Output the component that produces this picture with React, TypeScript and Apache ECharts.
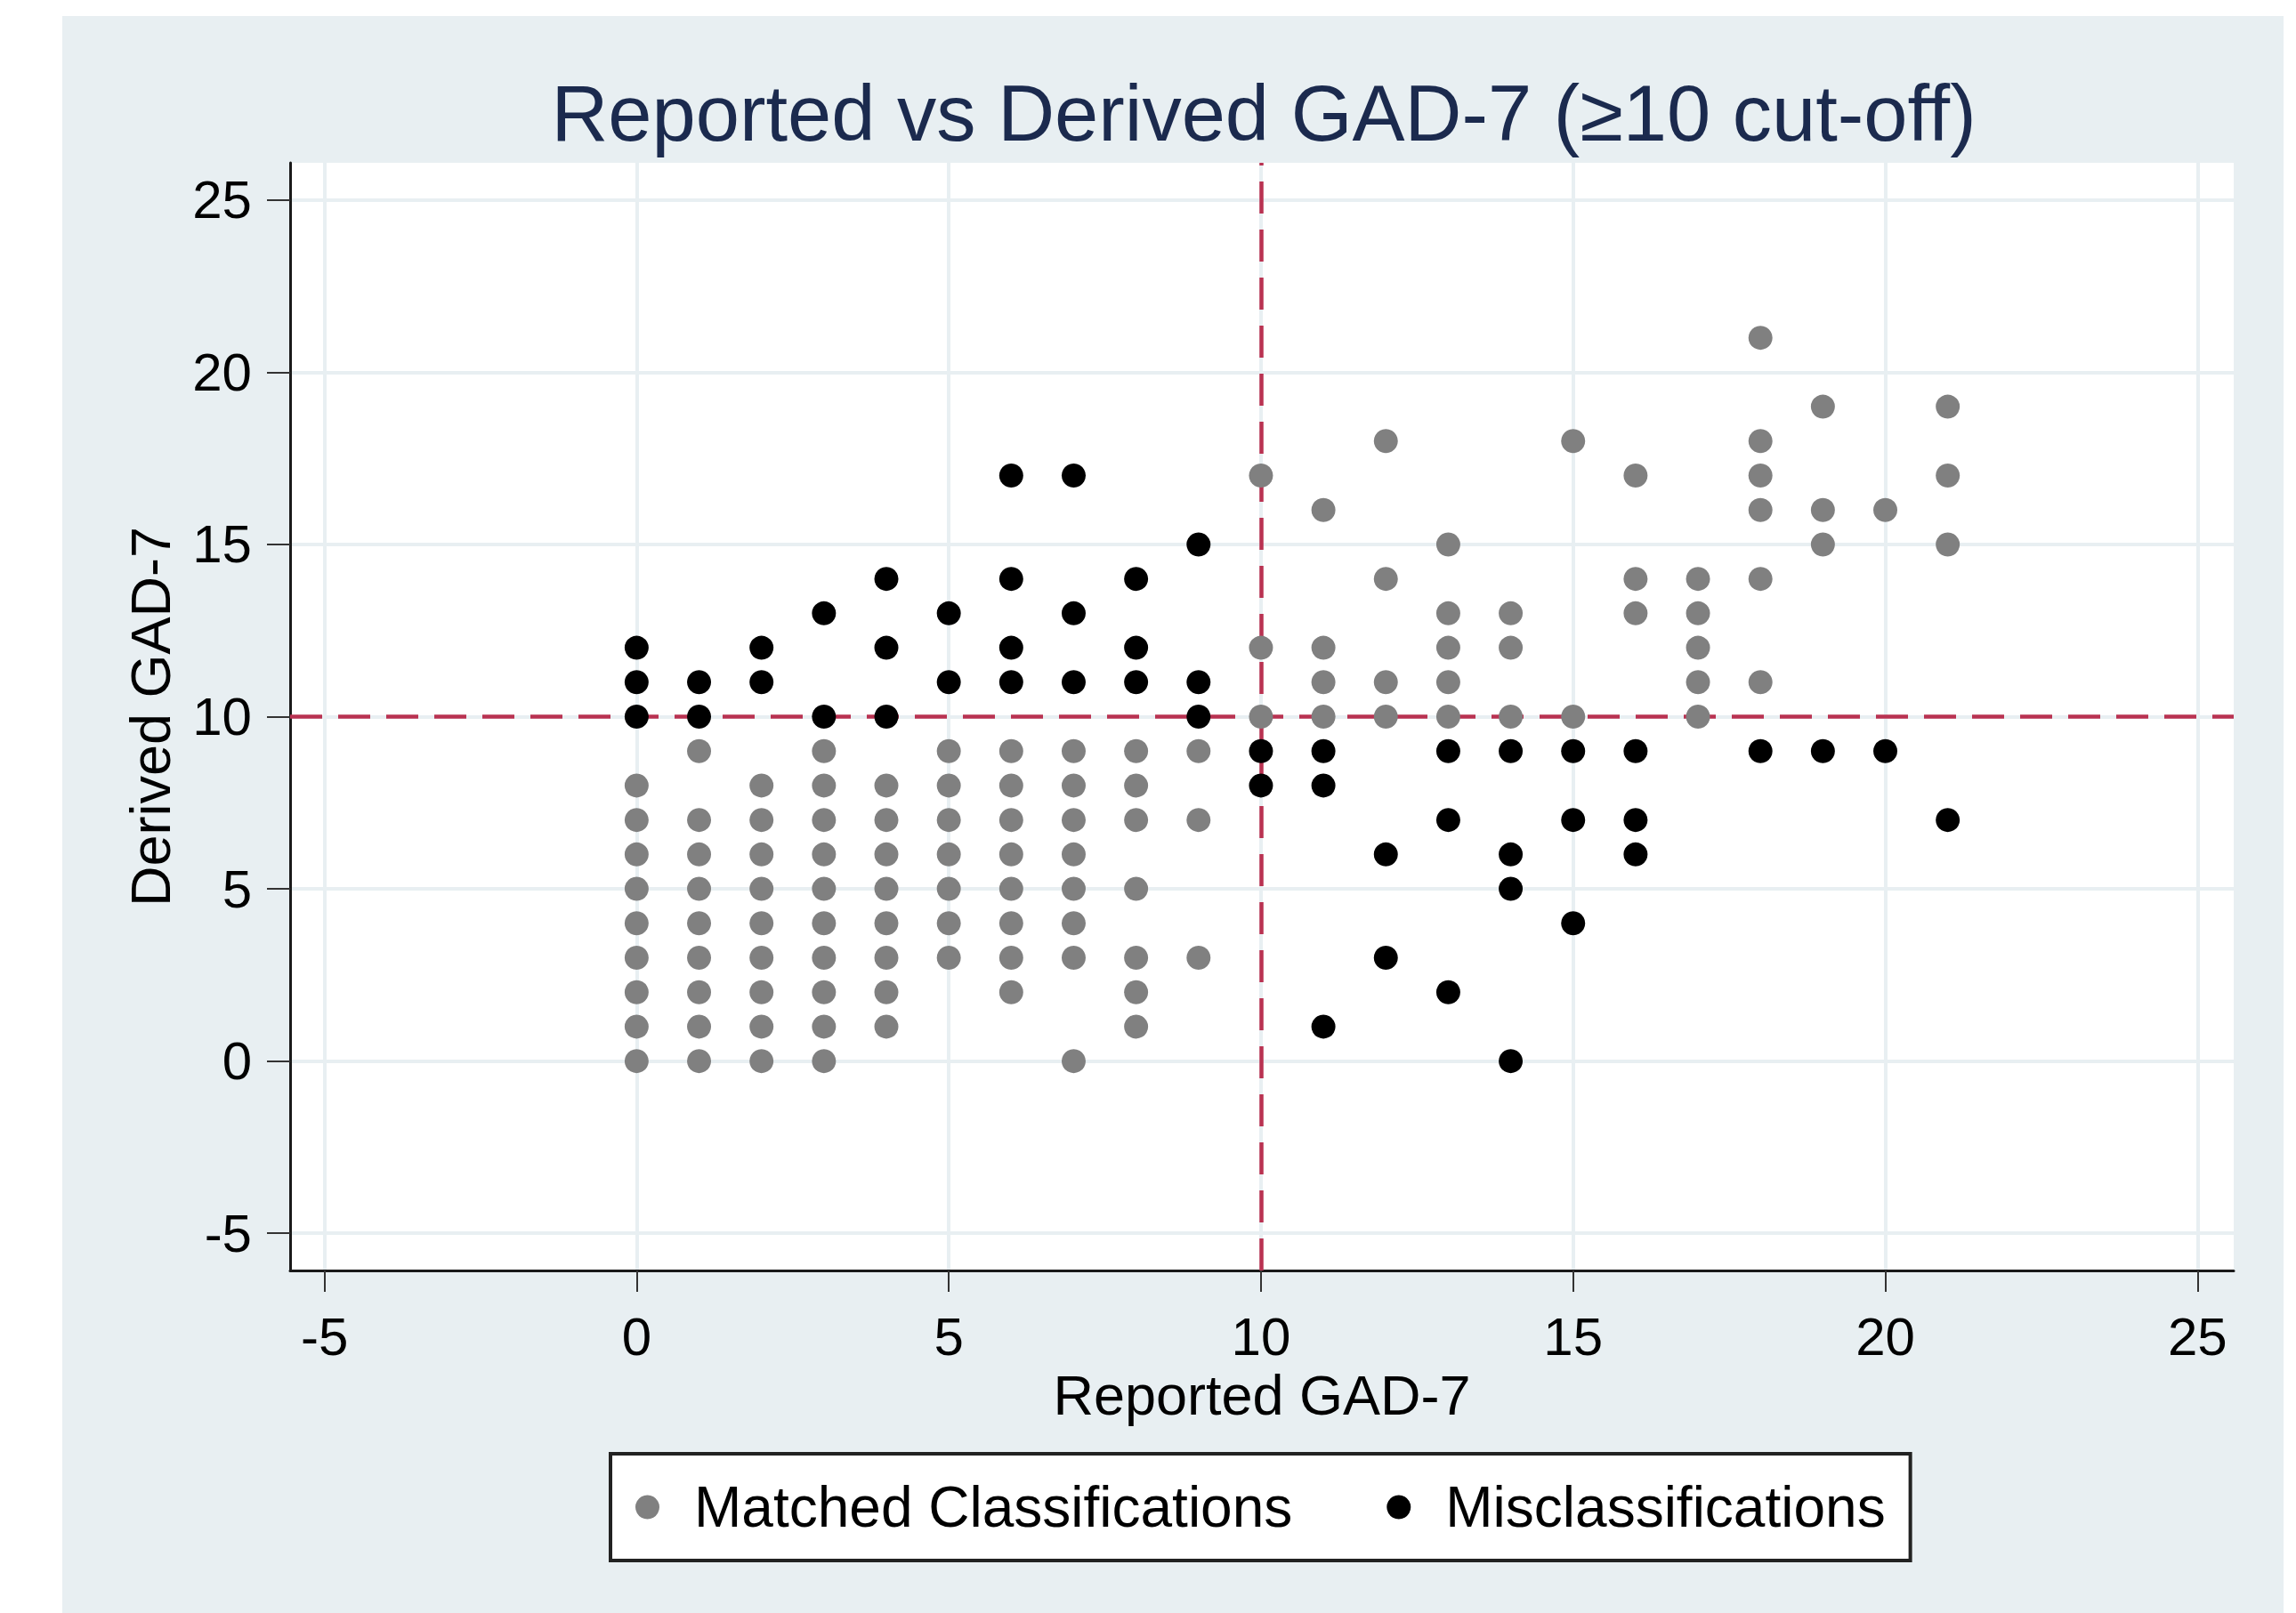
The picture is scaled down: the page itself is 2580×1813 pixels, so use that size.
import React, { useEffect, useRef } from 'react';
import * as echarts from 'echarts';

const chartTitle = 'Reported vs Derived GAD-7 (≥10 cut-off)';
const xAxisName = 'Reported GAD-7';
const yAxisName = 'Derived GAD-7';
const seriesNames = ['Matched Classifications', 'Misclassifications'];
const cutoff = 10;
const xTicks = [-5, 0, 5, 10, 15, 20, 25];
const yTicks = [-5, 0, 5, 10, 15, 20, 25];

// Reported GAD-7 scores (x) and, for each, the derived scores (y)
const reportedScores = [0, 1, 2, 3, 4, 5, 6, 7, 8, 9, 10, 11, 12, 13, 14, 15, 16, 17, 18, 19, 20, 21];
const matchedDerived = [
  [8, 7, 6, 5, 4, 3, 2, 1, 0],
  [9, 7, 6, 5, 4, 3, 2, 1, 0],
  [8, 7, 6, 5, 4, 3, 2, 1, 0],
  [9, 8, 7, 6, 5, 4, 3, 2, 1, 0],
  [8, 7, 6, 5, 4, 3, 2, 1],
  [9, 8, 7, 6, 5, 4, 3],
  [9, 8, 7, 6, 5, 4, 3, 2],
  [9, 8, 7, 6, 5, 4, 3, 0],
  [9, 8, 7, 5, 3, 2, 1],
  [9, 7, 3],
  [17, 12, 10],
  [16, 12, 11, 10],
  [18, 14, 11, 10],
  [15, 13, 12, 11, 10],
  [13, 12, 10],
  [18, 10],
  [17, 14, 13],
  [14, 13, 12, 11, 10],
  [21, 18, 17, 16, 14, 11],
  [19, 16, 15],
  [16],
  [19, 17, 15],
];
const misclassifiedDerived = [
  [12, 11, 10],
  [11, 10],
  [12, 11],
  [13, 10],
  [14, 12, 10],
  [13, 11],
  [17, 14, 12, 11],
  [17, 13, 11],
  [14, 12, 11],
  [15, 11, 10],
  [9, 8],
  [9, 8, 1],
  [6, 3],
  [9, 7, 2],
  [9, 6, 5, 0],
  [9, 7, 4],
  [9, 7, 6],
  [],
  [9],
  [9],
  [9],
  [7],
];

const toPoints = (groups: number[][]) =>
  reportedScores.flatMap((x, i) => (groups[i] || []).map((y) => [x, y]));

const FONT = '"Liberation Sans", Arial, sans-serif';

export default function App() {
  const ref = useRef<HTMLDivElement>(null);
  useEffect(() => {
    document.body.style.margin = '0';
    if (!ref.current) return;
    const chart = echarts.init(ref.current, null, { renderer: 'svg' });
    const bg = '#E8EFF2';
    const gridColor = '#E8EFF2';
    chart.setOption({
      animation: false,
      backgroundColor: '#FFFFFF',
      textStyle: { fontFamily: FONT },
      graphic: [
        {
          type: 'rect',
          z: -100,
          silent: true,
          shape: { x: 70, y: 18, width: 2496, height: 1795 },
          style: { fill: bg },
        },
      ],
      title: {
        text: chartTitle,
        left: 1415,
        top: 78,
        textAlign: 'center',
        textStyle: { fontSize: 88.5, fontWeight: 'normal', color: '#1B2A4E', fontFamily: FONT },
      },
      grid: {
        left: 326,
        top: 183,
        width: 2184,
        height: 1245,
        show: true,
        backgroundColor: '#FFFFFF',
        borderWidth: 0,
      },
      legend: {
        left: 686,
        top: 1634,
        orient: 'horizontal',
        data: seriesNames,
        icon: 'circle',
        itemWidth: 27,
        itemHeight: 27,
        itemGap: 106,
        padding: [28, 28, 28, 28],
        backgroundColor: '#FFFFFF',
        borderColor: '#222222',
        borderWidth: 4,
        borderRadius: 0,
        selectedMode: false,
        itemStyle: { opacity: 1 },
        textStyle: { fontSize: 64, color: '#000', fontFamily: FONT, lineHeight: 60, padding: [0, 0, 0, 34] },
      },
      xAxis: {
        type: 'value',
        min: -5.55,
        max: 25.58,
        name: xAxisName,
        nameLocation: 'middle',
        nameGap: 103,
        nameTextStyle: { fontSize: 63, color: '#000', fontFamily: FONT },
        axisLine: { show: true, onZero: false, lineStyle: { color: '#1A1A1A', width: 3 } },
        axisTick: { show: true, length: 24, customValues: xTicks, lineStyle: { color: '#333', width: 2 } },
        axisLabel: {
          fontSize: 60,
          color: '#000',
          margin: 44,
          fontFamily: FONT,
          customValues: xTicks,
          formatter: (v: number) => (xTicks.includes(v) ? String(v) : ''),
        },
        splitLine: { show: true, lineStyle: { color: gridColor, width: 4 } },
      },
      yAxis: {
        type: 'value',
        min: -6.08,
        max: 26.08,
        name: yAxisName,
        nameLocation: 'middle',
        nameGap: 126,
        nameTextStyle: { fontSize: 63, color: '#000', fontFamily: FONT },
        axisLine: { show: true, onZero: false, lineStyle: { color: '#1A1A1A', width: 3 } },
        axisTick: { show: true, length: 26, customValues: yTicks, lineStyle: { color: '#333', width: 2 } },
        axisLabel: {
          fontSize: 60,
          color: '#000',
          margin: 43,
          fontFamily: FONT,
          customValues: yTicks,
          formatter: (v: number) => (yTicks.includes(v) ? String(v) : ''),
        },
        splitLine: { show: true, lineStyle: { color: gridColor, width: 4 } },
      },
      series: [
        {
          name: seriesNames[0],
          type: 'scatter',
          data: toPoints(matchedDerived),
          symbol: 'circle',
          symbolSize: 27,
          itemStyle: { color: '#808080', opacity: 1 },
          emphasis: { disabled: true },
          z: 3,
          markLine: {
            silent: true,
            symbol: 'none',
            z: 1,
            label: { show: false },
            lineStyle: { color: '#B93251', width: 4.5, type: [36, 18], opacity: 1 },
            emphasis: { disabled: true },
            data: [{ xAxis: cutoff }, { yAxis: cutoff }],
          },
        },
        {
          name: seriesNames[1],
          type: 'scatter',
          data: toPoints(misclassifiedDerived),
          symbol: 'circle',
          symbolSize: 27,
          itemStyle: { color: '#000000', opacity: 1 },
          emphasis: { disabled: true },
          z: 3,
        },
      ],
    });
    return () => chart.dispose();
  }, []);
  return <div ref={ref} style={{ width: 2580, height: 1813 }} />;
}
